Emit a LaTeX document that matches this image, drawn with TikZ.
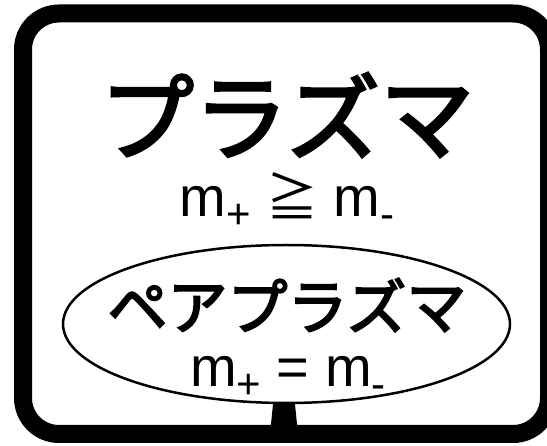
\documentclass[tikz,border=0pt]{standalone}
\usepackage{fontspec}
\setmainfont{Liberation Sans}
\newfontfamily\jpfont{Noto Sans CJK JP}
\newfontfamily\jpheavy[FakeBold=3]{Noto Sans CJK JP}
\usetikzlibrary{shapes.geometric}

% mass with a lowered sign
\newcommand{\massof}[1]{m\raisebox{-0.2em}{\fontsize{42}{42}\selectfont #1}}

\begin{document}
\begin{tikzpicture}[x=1pt, y=-1pt]
\useasboundingbox (0,0) rectangle (547,446);

% Outer frame
\draw[line width=18pt, rounded corners=36pt] (23,13.5) rectangle (549,434);
\coordinate (base) at (284,434);

% Plasma
\node[font=\jpheavy\fontsize{94}{94}\selectfont] (title) at (287,115) {プラズマ};
\node[anchor=base, font=\fontsize{56}{56}\selectfont] (ineq) at (287,217) {\massof{+} {\jpfont\fontsize{52}{52}\selectfont ≧} \massof{-}};

% Pair plasma
\node[draw, ellipse, line width=2.5pt, minimum width=447pt, minimum height=158pt, inner sep=0pt] (pair) at (286.5,324) {};
\node[font=\jpheavy\fontsize{60}{60}\selectfont] (pairtitle) at (287,305) {ペアプラズマ};
\node[anchor=base, font=\fontsize{56}{56}\selectfont] (eq) at (288,387) {\massof{+} = \massof{-}};

% Stem down to the frame
\coordinate (stem) at (pair.south -| base);
\fill (stem) ++(-11,0) -- ++(22,0) -- ([xshift=14pt]base) -- ([xshift=-14pt]base) -- cycle;
\end{tikzpicture}
\end{document}
